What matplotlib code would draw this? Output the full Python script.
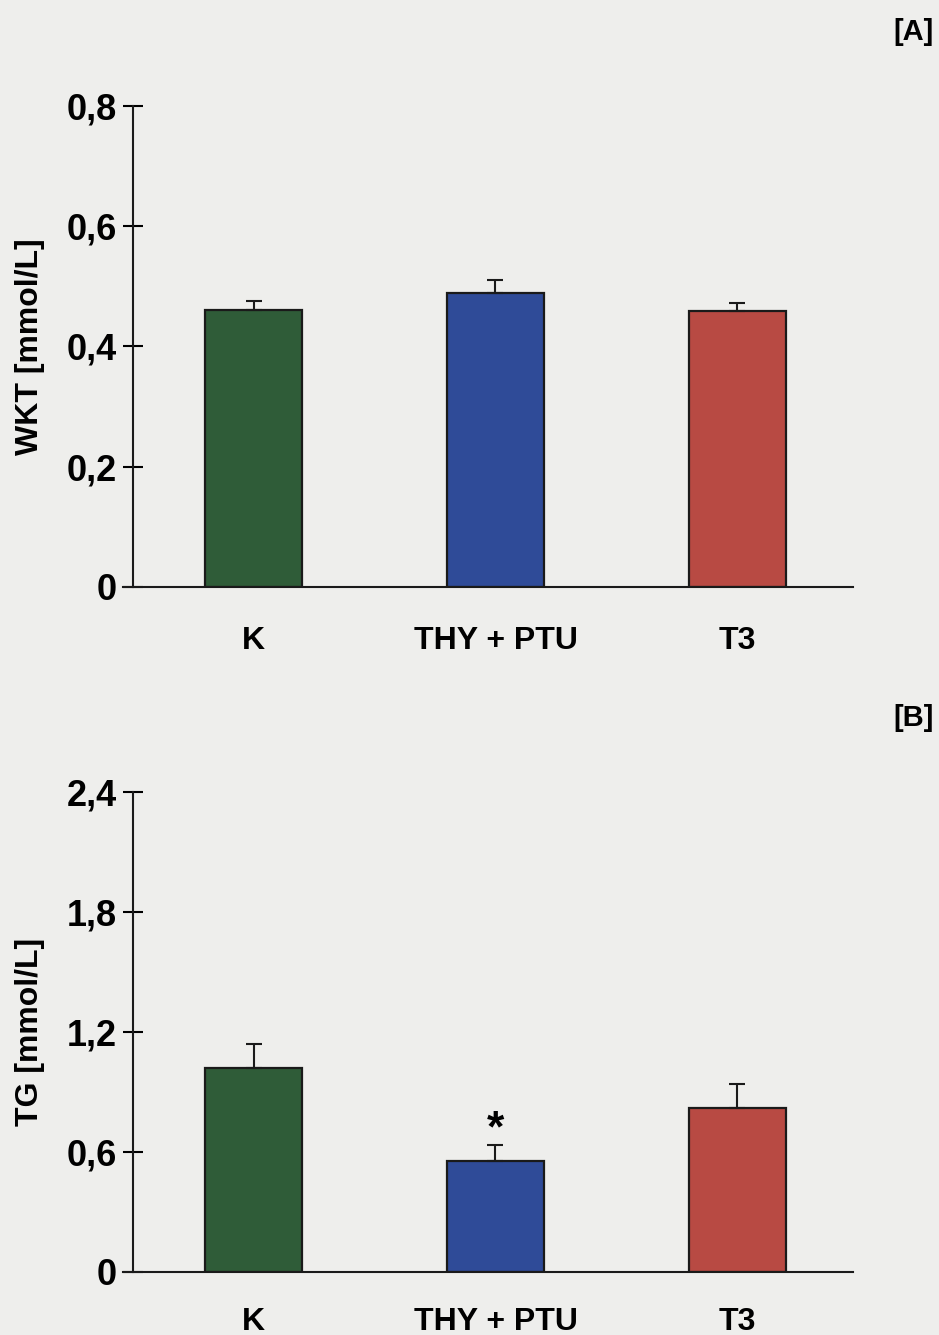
import matplotlib
matplotlib.use('Agg')
import matplotlib.pyplot as plt

plt.rcParams['font.family'] = ['Liberation Sans', 'DejaVu Sans']
plt.rcParams['font.weight'] = 'bold'

# groups
groups = ['K', 'THY + PTU', 'T3']
colors = ['#2f5c38', '#2f4b98', '#b84a43']

# panel A: WKT
wkt_mean = [0.46, 0.489, 0.459]
wkt_err = [0.016, 0.021, 0.013]

# panel B: TG
tg_mean = [1.02, 0.555, 0.82]
tg_err = [0.12, 0.08, 0.12]
tg_sig = ['', '*', '']

bg = '#eeeeec'
fig = plt.figure(figsize=(9.39, 13.35), dpi=100, facecolor=bg)


def panel(rect, means, errs, ymax, yticks, yticklabels, ylabel, marks=None, xpad=26):
    ax = fig.add_axes(rect)
    ax.set_facecolor(bg)
    x = range(len(groups))
    ax.bar(x, means, width=0.4, color=colors, edgecolor='#1a1a1a', linewidth=1.6,
           yerr=[[0] * len(errs), errs], capsize=5.5,
           error_kw=dict(ecolor='#1a1a1a', elinewidth=1.5, capthick=1.5))
    ax.set_xlim(-0.5, 2.48)
    ax.set_ylim(0, ymax)
    ax.set_yticks(yticks)
    ax.set_yticklabels(yticklabels, fontsize=26, fontweight='bold')
    ax.set_xticks(list(x))
    ax.set_xticklabels(groups, fontsize=23, fontweight='bold')
    ax.tick_params(axis='x', length=0, pad=xpad)
    ax.tick_params(axis='y', direction='inout', length=15, width=1.5, pad=4)
    for s in ['top', 'right']:
        ax.spines[s].set_visible(False)
    for s in ['left', 'bottom']:
        ax.spines[s].set_linewidth(1.5)
        ax.spines[s].set_color('#1a1a1a')
    ax.spines['bottom'].set_bounds(-0.54, 2.48)
    ax.set_ylabel(ylabel, fontsize=23, fontweight='bold', labelpad=16)
    if marks:
        for i, m in enumerate(marks):
            if m:
                ax.text(i, means[i] + errs[i] - ymax * 0.012, m, ha='center', va='bottom',
                        fontsize=32, fontweight='bold')
    return ax


panel([0.1416, 0.5603, 0.767, 0.3603], wkt_mean, wkt_err, 0.8,
      [0, 0.2, 0.4, 0.6, 0.8], ['0', '0,2', '0,4', '0,6', '0,8'],
      'WKT [mmol/L]', xpad=28)
panel([0.1416, 0.0472, 0.767, 0.3596], tg_mean, tg_err, 2.4,
      [0, 0.6, 1.2, 1.8, 2.4], ['0', '0,6', '1,2', '1,8', '2,4'],
      'TG [mmol/L]', tg_sig, xpad=25)

fig.text(0.994, 0.976, '[A]', ha='right', va='center', fontsize=21, fontweight='bold')
fig.text(0.994, 0.462, '[B]', ha='right', va='center', fontsize=21, fontweight='bold')

fig.savefig('out.png', dpi=100, facecolor=bg)
